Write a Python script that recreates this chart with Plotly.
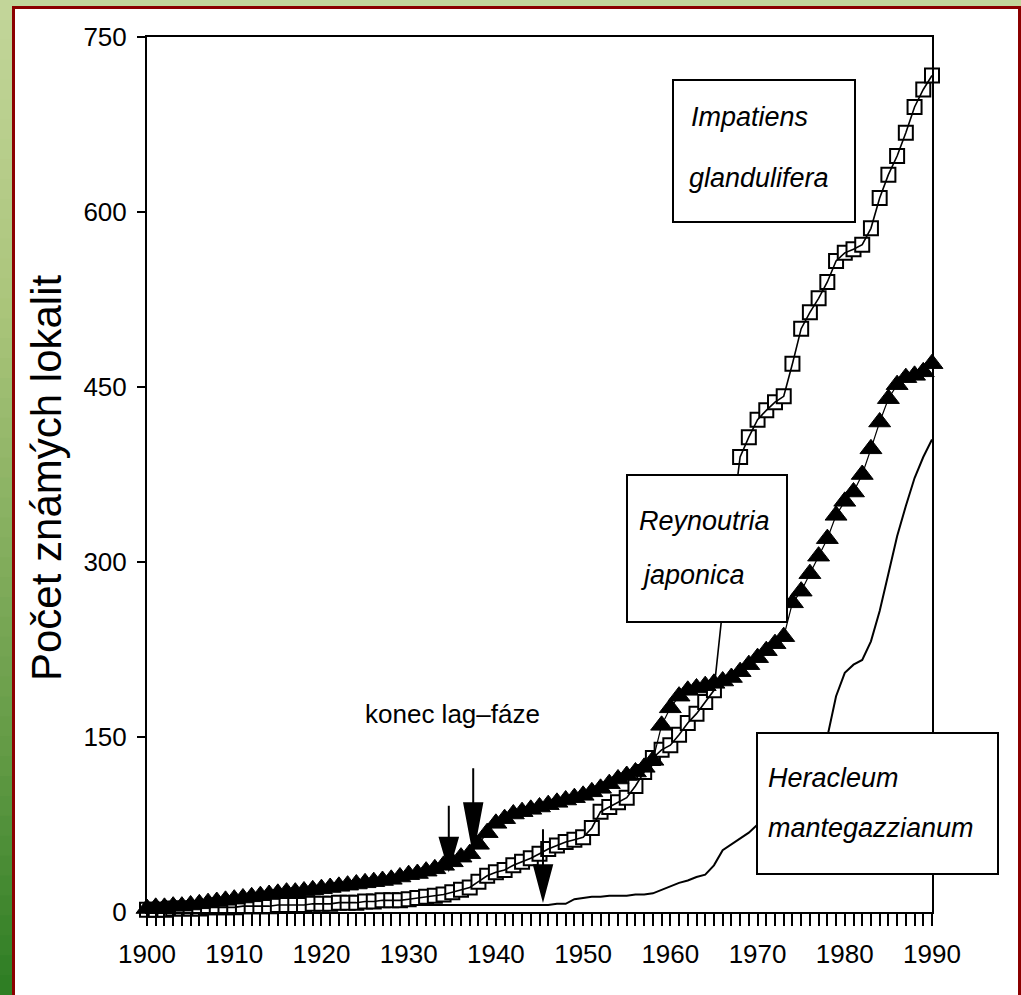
import numpy as np
import plotly.graph_objects as go

# ---------------- data ----------------
years = list(range(1900, 1991))

impatiens_glandulifera = [
    2, 2, 2, 3, 3, 3, 3, 4, 4, 4,
    4, 5, 5, 5, 5, 6, 6, 6, 6, 7,
    7, 7, 8, 8, 8, 9, 9, 10, 10, 10,
    11, 12, 13, 14, 15, 17, 19, 21, 26, 31,
    34, 36, 40, 43, 46, 50, 54, 57, 60, 62,
    64, 72, 86, 90, 94, 98, 108, 120, 132, 139,
    143, 152, 162, 170, 180, 190, 260, 330, 390, 407,
    422, 430, 437, 442, 470, 500, 514, 526, 540, 558,
    565, 568, 572, 586, 612, 632, 648, 668, 690, 705,
    717,
]

reynoutria_japonica = [
    3, 4, 4, 5, 5, 6, 7, 8, 9, 10,
    11, 12, 13, 14, 15, 16, 17, 17, 18, 19,
    20, 21, 22, 23, 24, 25, 26, 27, 28, 30,
    32, 33, 35, 37, 40, 43, 47, 50, 58, 68,
    76, 80, 84, 86, 88, 90, 92, 94, 96, 98,
    100, 103, 106, 110, 114, 117, 120, 124, 130, 160,
    175, 185, 190, 192, 194, 196, 198, 201, 206, 212,
    218, 224, 230, 236, 265, 275, 290, 305, 320, 340,
    352, 360, 375, 397, 420, 440, 452, 458, 460, 463,
    470,
]

heracleum_mantegazzianum = [
    0, 0, 0, 0, 1, 1, 1, 1, 1, 1,
    1, 1, 2, 2, 2, 2, 2, 2, 3, 3,
    3, 3, 3, 4, 4, 5, 5, 5, 5, 6,
    6, 6, 6, 6, 6, 6, 6, 6, 6, 6,
    6, 6, 6, 6, 6, 6, 6, 7, 7, 11,
    12, 13, 13, 14, 14, 14, 15, 15, 16, 19,
    22, 25, 27, 30, 32, 40, 53, 58, 63, 68,
    75, 80, 86, 93, 100, 110, 120, 135, 150, 185,
    205, 212, 216, 232, 258, 290, 322, 348, 372, 390,
    405,
]

x_tick_vals = [1900, 1910, 1920, 1930, 1940, 1950, 1960, 1970, 1980, 1990]
y_tick_vals = [0, 150, 300, 450, 600, 750]

y_title = "Počet známých lokalit"
lag_label = "konec lag–fáze"
impatiens_label = ["Impatiens", "glandulifera"]
reynoutria_label = ["Reynoutria", "japonica"]
heracleum_label = ["Heracleum", "mantegazzianum"]

# "end of lag phase" arrow tips (year, value)
lag_years = [1934.6, 1937.4, 1945.4]
lag_values = [37, 52, 11]

# ---------------- layout geometry (pixels) ----------------
W, H = 1021, 995
L, R, T, B = 147, 932, 37, 912

def px_x(p):
    return (p - L) / (R - L)

def px_y(p):
    return (B - p) / (B - T)

FONT = "Liberation Sans, Arial, sans-serif"

fig = go.Figure()

fig.add_trace(go.Scatter(
    x=years, y=heracleum_mantegazzianum, mode="lines",
    line=dict(color="black", width=2), cliponaxis=False, showlegend=False,
    name="Heracleum mantegazzianum"))

fig.add_trace(go.Scatter(
    x=years, y=impatiens_glandulifera, mode="markers",
    marker=dict(symbol="square", size=14, color="white",
                line=dict(color="black", width=2)),
    cliponaxis=False, showlegend=False, name="Impatiens glandulifera"))

fig.add_trace(go.Scatter(
    x=years, y=impatiens_glandulifera, mode="lines",
    line=dict(color="black", width=1.6), cliponaxis=False, showlegend=False,
    name="Impatiens glandulifera"))

fig.add_trace(go.Scatter(
    x=years, y=reynoutria_japonica, mode="lines+markers",
    line=dict(color="black", width=1.2),
    marker=dict(symbol="triangle-up", size=19, color="black",
                line=dict(color="black", width=1)),
    cliponaxis=False, showlegend=False, name="Reynoutria japonica"))

shapes = []

# background: green gradient strips + dark red frame
shapes.append(dict(type="rect", xref="paper", yref="paper", layer="below",
                   x0=px_x(0), x1=px_x(W), y0=px_y(8), y1=px_y(0),
                   fillcolor="rgb(194,214,155)", line=dict(width=0)))
anchors_y = [0, 300, 750, 995]
anchors_c = [(195, 214, 155), (172, 198, 124), (100, 155, 70), (45, 125, 35)]
nb = 50
for i in range(nb):
    y0p = i * H / nb
    y1p = (i + 1) * H / nb
    mid = (y0p + y1p) / 2
    c = [int(np.interp(mid, anchors_y, [a[k] for a in anchors_c])) for k in range(3)]
    shapes.append(dict(type="rect", xref="paper", yref="paper", layer="below",
                       x0=px_x(0), x1=px_x(13), y0=px_y(y1p + 1), y1=px_y(y0p),
                       fillcolor=f"rgb({c[0]},{c[1]},{c[2]})", line=dict(width=0)))
shapes.append(dict(type="rect", xref="paper", yref="paper", layer="below",
                   x0=px_x(13.5), x1=px_x(1019.5), y0=px_y(1010), y1=px_y(7.5),
                   fillcolor="rgba(0,0,0,0)", line=dict(color="#8b0000", width=3)))

# label boxes (pixel rectangles)
boxes = [(673, 855, 80, 222), (627, 787, 475, 622), (757, 998, 733, 874)]
for x0, x1, y0, y1 in boxes:
    shapes.append(dict(type="rect", xref="paper", yref="paper", layer="above",
                       x0=px_x(x0), x1=px_x(x1), y0=px_y(y1), y1=px_y(y0),
                       fillcolor="white", line=dict(color="black", width=2)))

# arrows marking the end of the lag phase
arrow_geom = [(31, 32), (48, 35), (34, 36)]
for xv, yv, (hl, sl) in zip(lag_years, lag_values, arrow_geom):
    shapes.append(dict(type="path", xref="x", yref="y",
                       xsizemode="pixel", ysizemode="pixel",
                       xanchor=xv, yanchor=yv,
                       path=f"M0,0 L-9,{hl} L9,{hl} Z M0,{hl} L0,{hl + sl}",
                       fillcolor="black", line=dict(color="black", width=2)))

annotations = []

def add_text(text, xp, yp, size, italic=False, xanchor="left", angle=0):
    annotations.append(dict(
        text=f"<i>{text}</i>" if italic else text,
        xref="paper", yref="paper", x=px_x(xp), y=px_y(yp),
        xanchor=xanchor, yanchor="middle", showarrow=False, textangle=angle,
        font=dict(family=FONT, size=size, color="black")))

add_text(impatiens_label[0], 689, 117, 27, italic=True)
add_text(impatiens_label[1], 687, 178, 27, italic=True)
add_text(reynoutria_label[0], 637, 521, 27, italic=True)
add_text(reynoutria_label[1], 638, 575, 27, italic=True)
add_text(heracleum_label[0], 766, 778, 27, italic=True)
add_text(heracleum_label[1], 766, 828, 27, italic=True)
add_text(lag_label, 452, 714, 26, xanchor="center")
annotations.append(dict(
    text=y_title, xref="paper", yref="paper", x=px_x(46), y=px_y(478),
    xanchor="center", yanchor="middle", showarrow=False, textangle=-90,
    font=dict(family=FONT, size=42, color="black")))

fig.update_layout(
    width=W, height=H,
    margin=dict(l=L, r=W - R, t=T, b=H - B, pad=0),
    paper_bgcolor="white", plot_bgcolor="white",
    shapes=shapes, annotations=annotations, showlegend=False,
    font=dict(family=FONT, color="black"),
)

fig.update_xaxes(
    range=[1900, 1990], tickmode="array", tickvals=x_tick_vals,
    ticktext=[str(v) for v in x_tick_vals],
    ticks="outside", ticklen=12, tickwidth=2, tickcolor="black",
    minor=dict(tickmode="linear", tick0=1900, dtick=1, ticks="outside",
               ticklen=12, tickwidth=1.8, tickcolor="black", showgrid=False),
    showgrid=False, zeroline=False, showline=True, mirror=True,
    linecolor="black", linewidth=2, ticklabelstandoff=6,
    tickfont=dict(family=FONT, size=26, color="black"))

fig.update_yaxes(
    range=[0, 750], tickmode="array", tickvals=y_tick_vals,
    ticks="outside", ticklen=8, tickwidth=2, tickcolor="black",
    showgrid=False, zeroline=False, showline=True, mirror=True,
    linecolor="black", linewidth=2, ticklabelstandoff=5,
    tickfont=dict(family=FONT, size=26, color="black"))

fig.write_html(
    "out.html",
    config={"displayModeBar": False},
    post_script="document.body.style.margin='0';document.body.style.overflow='hidden';",
)
